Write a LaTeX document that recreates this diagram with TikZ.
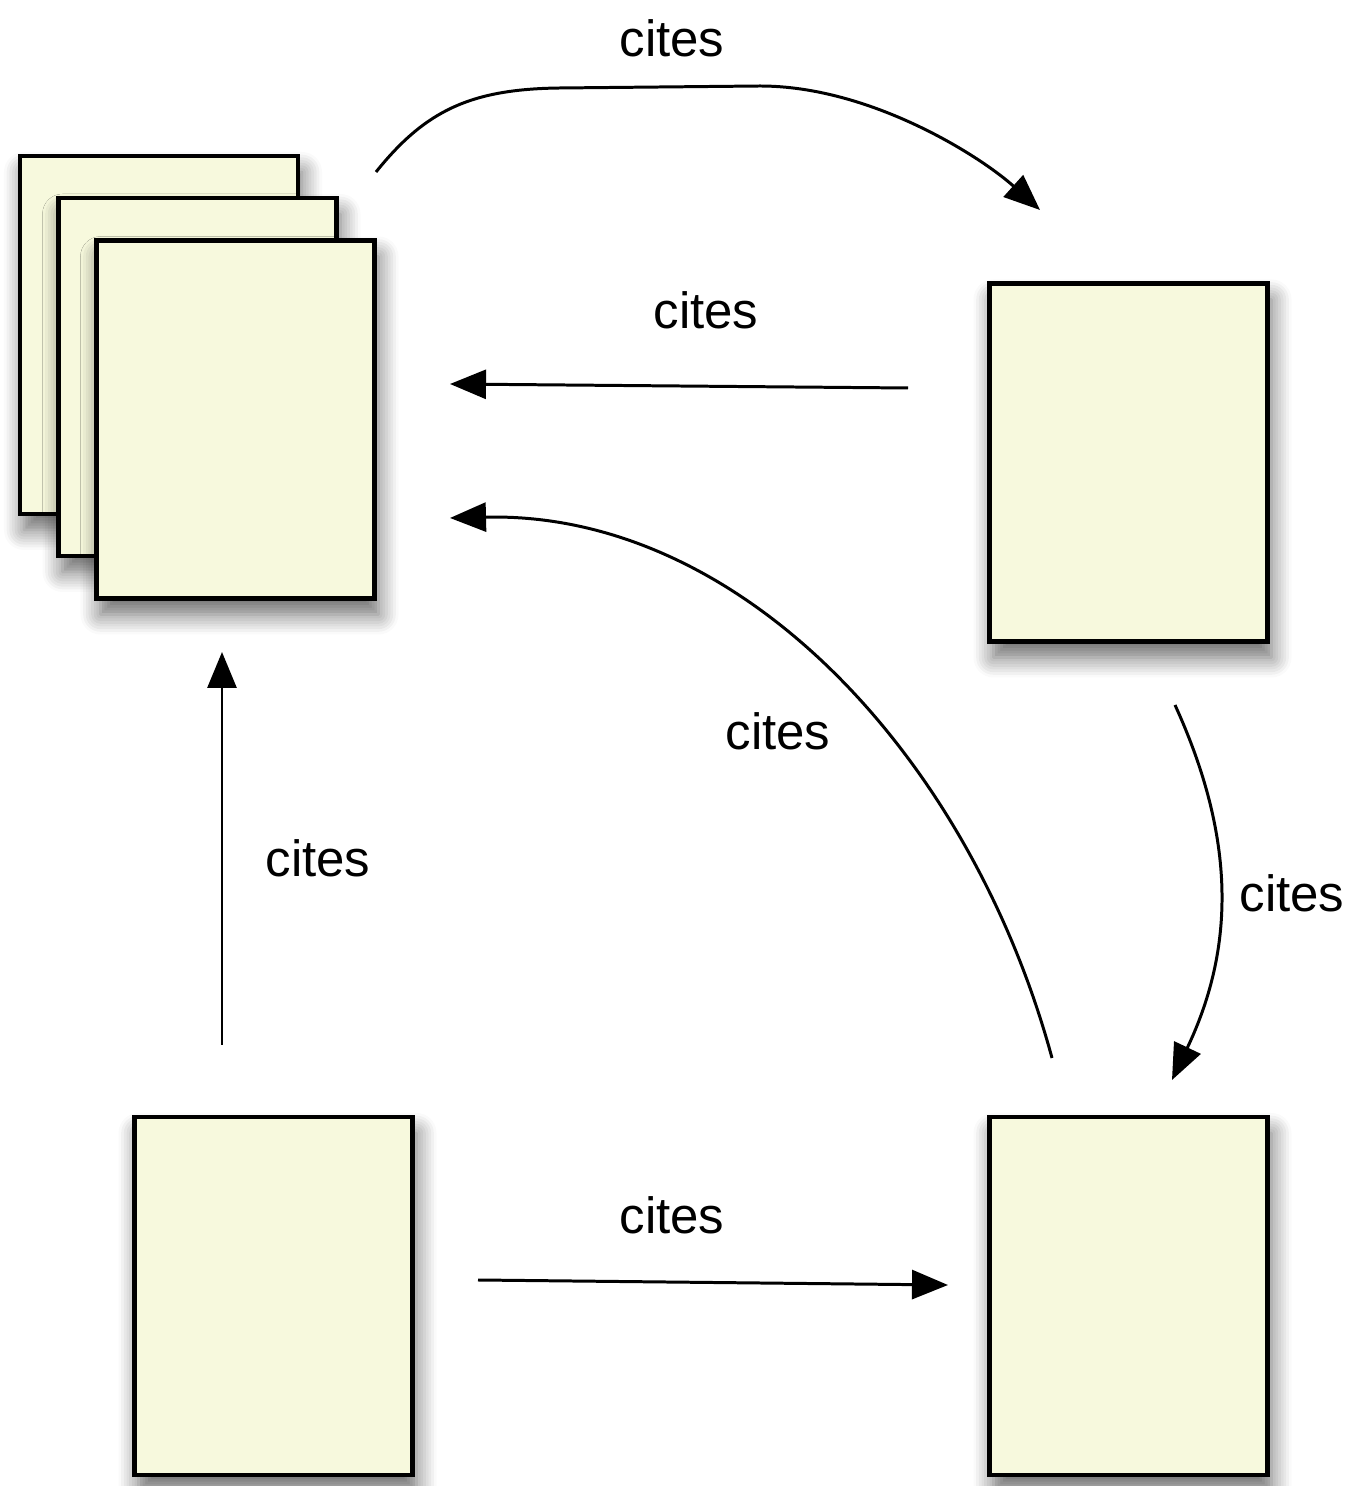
\documentclass[tikz,border=0pt]{standalone}
\usepackage{fontspec}
\setmainfont{Liberation Sans}
\usetikzlibrary{arrows.meta,shadows.blur}
\definecolor{paper}{HTML}{F7F9DD}

\begin{document}
\begin{tikzpicture}
      \tikzset{
        node distance=8.55cm,
        page/.style={rectangle,draw,line width=1.2pt,fill=paper,inner sep=0pt,
          minimum width=2.78cm,minimum height=3.58cm,
          blur shadow={shadow xshift=0.4mm,shadow yshift=-1.6mm,shadow blur radius=2mm,
            shadow blur steps=8,shadow opacity=60}},
        cites/.style={line width=0.85pt,-{Triangle[length=3.6mm,width=2.9mm]}},
        lbl/.style={font=\fontsize{14.5}{17}\selectfont,inner sep=0pt}
      }
      \useasboundingbox (0,0) rectangle (13.59,14.86);

      % stack of papers
      \node[page] (s1) at (1.59,11.51) {};
      \node[page] (s2) at (1.975,11.09) {};
      \node[page] (s3) at (2.355,10.665) {};
      % single papers
      \node[page] (p4) at (11.285,1.9) {};
      \node[page, left of=p4] (p3) {};
      \node[page, above of=p4, node distance=8.335cm] (p2) {};

      \coordinate (a1) at (3.76,13.14);  \coordinate (b1) at (10.40,12.76);
      \coordinate (a2) at (9.08,10.98);  \coordinate (b2) at (4.50,11.02);
      \coordinate (a3) at (10.52,4.28);  \coordinate (b3) at (4.50,9.68);
      \coordinate (a4) at (2.22,4.41);   \coordinate (b4) at (2.22,8.34);
      \coordinate (a5) at (4.78,2.06);   \coordinate (b5) at (9.48,2.01);
      \coordinate (a6) at (11.75,7.81);  \coordinate (b6) at (11.72,4.06);

      \draw[cites] (a1) .. controls (4.25,13.75) and (4.7,13.97) .. (5.6,13.98)
                   -- (7.6,14.0) .. controls (8.7,14.0) and (9.8,13.3) .. (b1);
      \draw[cites] (a2) -- (b2);
      \draw[cites] (a3) .. controls (9.7,7.3) and (7.4,9.75) .. (b3);
      \draw[cites] (a4) -- (b4);
      \draw[cites] (a5) -- (b5);
      \draw[cites] (a6) to[bend left=25] (b6);

      \node[lbl] (l1) at (6.72,14.48) {cites};
      \node[lbl] (l2) at (7.06,11.76) {cites};
      \node[lbl] (l3) at (7.78,7.55) {cites};
      \node[lbl] (l4) at (3.18,6.28) {cites};
      \node[lbl] (l5) at (6.72,2.71) {cites};
      \node[lbl] (l6) at (12.92,5.93) {cites};
    \end{tikzpicture}
\end{document}
